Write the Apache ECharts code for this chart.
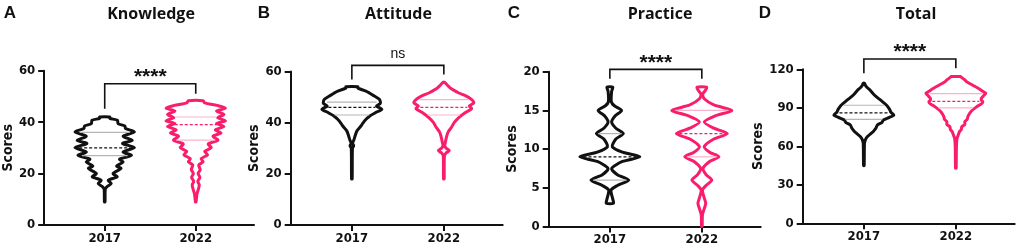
<!DOCTYPE html>
<html>
<head>
<meta charset="utf-8">
<script src="https://cdn.jsdelivr.net/npm/echarts@6/dist/echarts.min.js"></script>
<style>
  html, body { margin: 0; padding: 0; background: #fff; }
  #chart { width: 1021px; height: 250px; }
</style>
</head>
<body>
<div id="chart"></div>
<script>
// groups and panels
const years = ['2017', '2022'];
const panelNames = ['Knowledge', 'Attitude', 'Practice', 'Total'];
const panelLetters = ['A', 'B', 'C', 'D'];
const yMax = [60, 60, 20, 120];
const yStep = [20, 20, 5, 30];

// significance brackets: top of bracket, leg ends for 2017 / 2022 (score units)
const signif = ['****', 'ns', '****', '****'];
const bracketTop = [54.9, 62.4, 20.3, 128];
const bracketLeg2017 = [45.2, 56.9, 19.1, 116.9];
const bracketLeg2022 = [51.0, 58.8, 19.1, 120.8];

// violin outlines: [score, relative density] from bottom to top
const knowledge2017 = [[9, 0.01], [14, 0.02], [14.9, 0.08], [16.1, 0.22], [17.4, 0.12], [18.7, 0.42], [20, 0.28], [22, 0.55], [22.9, 0.4], [24.5, 0.62], [25.6, 0.5], [27.1, 0.9], [28.4, 0.62], [30.1, 1.0], [31.7, 0.6], [32.9, 0.93], [34.5, 0.62], [36.2, 1.0], [37.5, 0.7], [38.5, 0.68], [39.4, 0.45], [40.7, 0.43], [41.5, 0.17], [42, 0.17]];
const knowledge2022 = [[9, 0.01], [12, 0.04], [13.6, 0.08], [15.5, 0.12], [17, 0.07], [18.5, 0.14], [20, 0.08], [21.5, 0.15], [23.3, 0.1], [24.6, 0.25], [25.8, 0.18], [27.3, 0.4], [28.6, 0.3], [30.1, 0.52], [31.5, 0.42], [33, 0.75], [34.5, 0.58], [35.8, 0.85], [37, 0.66], [38.3, 0.95], [39.5, 0.7], [40.5, 1.0], [41.7, 0.74], [43, 0.95], [44.3, 0.7], [45.5, 1.0], [46.5, 0.72], [47.5, 0.3], [48.3, 0.25]];
const attitude2017 = [[18, 0.01], [30, 0.02], [31, 0.06], [32, 0.02], [33, 0.06], [34.9, 0.11], [36.8, 0.17], [38.8, 0.31], [40.7, 0.42], [42.6, 0.6], [44, 0.8], [45.2, 1.0], [46.5, 0.82], [47.5, 0.95], [49.1, 0.92], [50.4, 0.75], [52.3, 0.47], [53.5, 0.2], [54, 0.2]];
const attitude2022 = [[18, 0.01], [27, 0.02], [28.2, 0.08], [29.1, 0.18], [30, 0.08], [31, 0.03], [32.3, 0.05], [34.9, 0.1], [36.5, 0.15], [38.1, 0.25], [40.1, 0.35], [42, 0.5], [44, 0.72], [45.5, 0.93], [46.5, 0.85], [47.8, 1.0], [49.1, 0.92], [50.4, 0.75], [51.6, 0.5], [52.9, 0.3], [53.5, 0.22], [54.3, 0.15], [55.8, 0.02]];
const practice2017 = [[3, 0.12], [3.5, 0.1], [4.7, 0.04], [5.3, 0.25], [6, 0.63], [6.7, 0.25], [7.5, 0.06], [8.4, 0.42], [9, 1.0], [9.6, 0.42], [10.3, 0.08], [11.3, 0.2], [12, 0.45], [12.7, 0.2], [13.5, 0.06], [14.3, 0.18], [15, 0.39], [15.6, 0.15], [16.1, 0.05], [17.5, 0.06], [18, 0.1]];
const practice2022 = [[0, 0.01], [1.5, 0.02], [2.3, 0.08], [3, 0.13], [3.7, 0.08], [4.7, 0.02], [5.3, 0.14], [6, 0.33], [6.7, 0.14], [7.5, 0.04], [8.4, 0.26], [9, 0.57], [9.6, 0.26], [10.3, 0.08], [11.3, 0.4], [12, 0.85], [12.7, 0.4], [13.5, 0.08], [14.3, 0.45], [15, 1.0], [15.7, 0.4], [16.5, 0.08], [17.1, 0.03], [17.6, 0.12], [18, 0.16]];
const total2017 = [[45, 0.01], [62, 0.02], [65, 0.05], [67.6, 0.12], [70.2, 0.25], [72, 0.33], [74.1, 0.4], [76.6, 0.45], [78.5, 0.6], [80.5, 0.65], [82.5, 0.85], [84.4, 1.0], [86.5, 0.9], [88.3, 0.87], [90.2, 0.82], [92.2, 0.75], [96.1, 0.55], [100, 0.35], [104, 0.2], [106, 0.1], [108, 0.04], [109, 0.03]];
const total2022 = [[43, 0.01], [60, 0.02], [66, 0.04], [68.8, 0.08], [71.4, 0.12], [73, 0.18], [75.3, 0.2], [77, 0.3], [79.2, 0.3], [81, 0.38], [83.1, 0.4], [87, 0.5], [90.9, 0.7], [93, 0.85], [94.8, 0.9], [96, 0.85], [97.4, 0.85], [99.5, 0.93], [101.3, 1.0], [103, 0.88], [104.4, 0.8], [107.8, 0.55], [110.5, 0.35], [111.7, 0.3], [113.5, 0.2], [114.3, 0.15]];

// quartiles [Q1, median, Q3]
const quart2017 = [[27, 30, 36], [43, 46, 48], [6, 9, 12], [81, 86, 92]];
const quart2022 = [[33, 39, 42], [43, 46, 49], [9, 12, 15], [90, 95, 101]];

const violins2017 = [knowledge2017, attitude2017, practice2017, total2017];
const violins2022 = [knowledge2022, attitude2022, practice2022, total2022];

// layout
const gridLeft = [42, 290.7, 548.7, 802.7];
const gridTop = [70.7, 71.5, 71.7, 69.3];
const gridBottom = [225, 225, 226.5, 223.3];
const titleX = [151, 398.5, 660, 916];
const letterX = [10, 264, 514, 765];
const HALF = 0.326;
const NARROW = '"Liberation Sans Narrow", "DejaVu Sans Condensed", "Liberation Sans", Arial, sans-serif';
const BLACK = '#111';
const PINK = '#fa1d6c';

function widthAt(profile, s) {
  for (let i = 1; i < profile.length; i++) {
    if (s <= profile[i][0]) {
      const a = profile[i - 1], b = profile[i];
      return a[1] + (b[1] - a[1]) * (s - a[0]) / (b[0] - a[0]);
    }
  }
  return profile[profile.length - 1][1];
}

function violin(gi, xPos, profile, quart, color, qColor) {
  return {
    type: 'custom', xAxisIndex: gi, yAxisIndex: gi, silent: true, clip: false,
    data: [[xPos, quart[1]]],
    renderItem: function (params, api) {
      const right = profile.map(p => api.coord([xPos + p[1] * HALF, p[0]]));
      const left = profile.slice().reverse().map(p => api.coord([xPos - p[1] * HALF, p[0]]));
      const children = [{
        type: 'polygon',
        shape: { points: right.concat(left), smooth: 0.25 },
        style: { fill: '#fff', stroke: color, lineWidth: 3, lineJoin: 'round' }
      }];
      quart.forEach(function (q, i) {
        const w = widthAt(profile, q) * HALF * 0.88;
        const a = api.coord([xPos - w, q]), b = api.coord([xPos + w, q]);
        children.push({
          type: 'line',
          shape: { x1: a[0], y1: a[1], x2: b[0], y2: b[1] },
          style: { stroke: i === 1 ? color : qColor, lineWidth: 1.2, lineDash: i === 1 ? [3, 2] : null }
        });
      });
      return { type: 'group', children: children };
    }
  };
}

function bracket(gi) {
  return {
    type: 'custom', xAxisIndex: gi, yAxisIndex: gi, silent: true, clip: false,
    data: [[1.5, bracketTop[gi]]],
    renderItem: function (params, api) {
      const p1 = api.coord([1, bracketLeg2017[gi]]);
      const p2 = api.coord([1, bracketTop[gi]]);
      const p3 = api.coord([2, bracketTop[gi]]);
      const p4 = api.coord([2, bracketLeg2022[gi]]);
      const mid = api.coord([1.5, bracketTop[gi]]);
      const stars = signif[gi] !== 'ns';
      return {
        type: 'group',
        children: [
          { type: 'polyline', shape: { points: [p1, p2, p3, p4] }, style: { stroke: BLACK, lineWidth: 1.6, fill: null } },
          {
            type: 'text', x: mid[0], y: stars ? mid[1] + 4 : mid[1] - 4,
            style: {
              text: signif[gi], align: 'center', verticalAlign: 'bottom', fill: BLACK,
              font: stars ? 'bold 21px "Liberation Sans", Arial, sans-serif' : '14px "Liberation Sans", Arial, sans-serif'
            }
          }
        ]
      };
    }
  };
}

const grids = [], xAxes = [], yAxes = [], series = [], graphics = [];
for (let i = 0; i < 4; i++) {
  grids.push({ left: gridLeft[i], top: gridTop[i], width: 212, height: gridBottom[i] - gridTop[i] });
  xAxes.push({
    type: 'value', gridIndex: i, min: 0.335, max: 2.64,
    axisLine: { lineStyle: { color: BLACK, width: 2 } },
    axisTick: { customValues: [1, 2], length: 6, lineStyle: { color: BLACK, width: 2 } },
    axisLabel: {
      customValues: [1, 2], formatter: v => years[Math.round(v) - 1] || '',
      color: BLACK, fontWeight: 'bold', fontSize: 13, fontFamily: NARROW, margin: 7
    },
    splitLine: { show: false }
  });
  yAxes.push({
    type: 'value', gridIndex: i, min: 0, max: yMax[i], interval: yStep[i],
    name: 'Scores', nameLocation: 'middle', nameGap: 29,
    nameTextStyle: { color: BLACK, fontWeight: 'bold', fontSize: 14, fontFamily: NARROW },
    axisLine: { show: true, lineStyle: { color: BLACK, width: 2 } },
    axisTick: { show: true, length: 6, lineStyle: { color: BLACK, width: 2 } },
    axisLabel: { color: BLACK, fontWeight: 'bold', fontSize: 13, fontFamily: NARROW, margin: 9 },
    splitLine: { show: false }
  });
  series.push(violin(i, 1, violins2017[i], quart2017[i], BLACK, '#b5b5b5'));
  series.push(violin(i, 2, violins2022[i], quart2022[i], PINK, '#f8b3cb'));
  series.push(bracket(i));
  graphics.push({
    type: 'text', x: titleX[i], y: 14,
    style: { text: panelNames[i], align: 'center', verticalAlign: 'middle', fill: BLACK, font: 'bold 16px "Open Sans", "Noto Sans", sans-serif' }
  });
  graphics.push({
    type: 'text', x: letterX[i], y: 13,
    style: { text: panelLetters[i], align: 'center', verticalAlign: 'middle', fill: BLACK, font: 'bold 17px "Liberation Sans", Arial, sans-serif' }
  });
}

const chart = echarts.init(document.getElementById('chart'), null, { renderer: 'canvas' });
chart.setOption({
  backgroundColor: '#fff',
  animation: false,
  grid: grids,
  xAxis: xAxes,
  yAxis: yAxes,
  series: series,
  graphic: graphics
});
</script>
</body>
</html>
